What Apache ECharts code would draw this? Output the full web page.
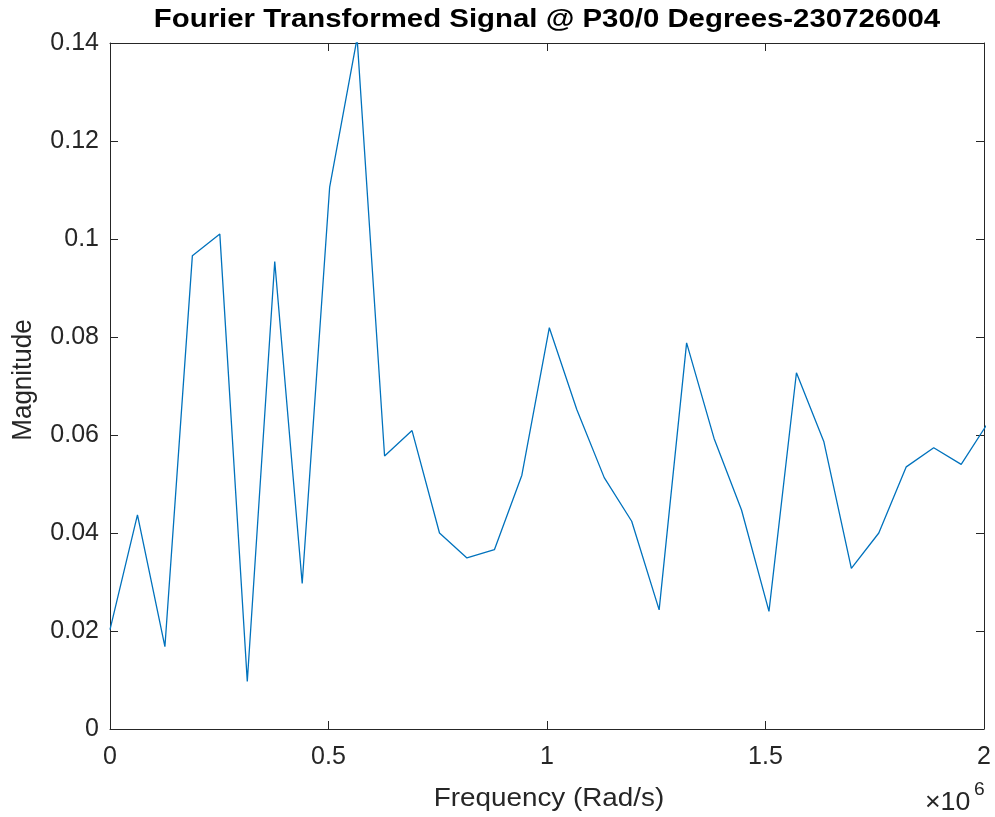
<!DOCTYPE html>
<html>
<head>
<meta charset="utf-8">
<script src="https://cdn.jsdelivr.net/npm/echarts@6/dist/echarts.min.js"></script>
<style>
  html, body { margin: 0; padding: 0; background: #fff; }
  #chart { width: 995px; height: 817px; }
</style>
</head>
<body>
<div id="chart"></div>
<script>
// Frequency bins (rad/s) and FFT magnitude
const frequency = [
  0, 62832, 125664, 188496, 251327, 314159, 376991, 439823, 502655, 565487,
  628319, 691150, 753982, 816814, 879646, 942478, 1005310, 1068142, 1130973,
  1193805, 1256637, 1319469, 1382301, 1445133, 1507964, 1570796, 1633628,
  1696460, 1759292, 1822124, 1884956, 1947787, 2010619
];
const magnitude = [
  0.0203, 0.0437, 0.0168, 0.0966, 0.1010, 0.0097, 0.0954, 0.0297, 0.1106, 0.1410,
  0.0557, 0.0609, 0.0400, 0.0349, 0.0366, 0.0518, 0.0819, 0.0652, 0.0513,
  0.0424, 0.0243, 0.0788, 0.0593, 0.0447, 0.0240, 0.0727, 0.0586,
  0.0328, 0.0400, 0.0535, 0.0574, 0.0540, 0.0627
];
const xTicks = [0, 500000, 1000000, 1500000, 2000000];
const yTicks = [0, 0.02, 0.04, 0.06, 0.08, 0.1, 0.12, 0.14];

const titleText = 'Fourier Transformed Signal @ P30/0 Degrees-230726004';
const xName = 'Frequency (Rad/s)';
const yName = 'Magnitude';

const FONT = '"Liberation Sans", Arial, Helvetica, sans-serif';
const AX = '#262626';

const chart = echarts.init(document.getElementById('chart'), null, { renderer: 'canvas' });

const xMin = xTicks[0], xMax = xTicks[xTicks.length - 1];
const xStep = xTicks[1] - xTicks[0];
const yMin = yTicks[0], yMax = yTicks[yTicks.length - 1];
const yStep = yTicks[1] - yTicks[0];

const boxLine = { show: true, onZero: false, lineStyle: { color: AX, width: 1 } };
const inTicks = { show: true, inside: true, length: 8, lineStyle: { color: AX, width: 1 } };
const tickFont = { color: AX, fontFamily: FONT, fontSize: 25 };

// plot box edges in pixels
const G = { left: 110, right: 11, top: 43, bottom: 88 };

chart.setOption({
  animation: false,
  backgroundColor: '#ffffff',
  grid: { left: G.left, right: G.right, top: G.top, bottom: G.bottom, containLabel: false },
  xAxis: [
    {
      type: 'value', position: 'bottom',
      min: xMin, max: xMax, interval: xStep,
      axisLine: boxLine, axisTick: inTicks, splitLine: { show: false },
      axisLabel: Object.assign({ margin: 16, formatter: v => String(v / 1e6) }, tickFont)
    },
    {
      type: 'value', position: 'top',
      min: xMin, max: xMax, interval: xStep,
      axisLine: boxLine, axisTick: inTicks, splitLine: { show: false },
      axisLabel: { show: false }
    }
  ],
  yAxis: [
    {
      type: 'value', position: 'left',
      min: yMin, max: yMax, interval: yStep,
      axisLine: boxLine, axisTick: inTicks, splitLine: { show: false },
      axisLabel: Object.assign({ margin: 11, formatter: v => String(Math.round(v * 100) / 100) }, tickFont)
    },
    {
      type: 'value', position: 'right',
      min: yMin, max: yMax, interval: yStep,
      axisLine: boxLine, axisTick: inTicks, splitLine: { show: false },
      axisLabel: { show: false }
    }
  ],
  graphic: [
    {
      // title
      type: 'text', x: 547, y: 20, scaleX: 1.13,
      style: {
        text: titleText, align: 'center', verticalAlign: 'middle',
        font: 'bold 26px ' + FONT, fill: '#000'
      }
    },
    {
      // x axis name
      type: 'text', x: 549, y: 799, scaleX: 1.07,
      style: {
        text: xName, align: 'center', verticalAlign: 'middle',
        font: '26px ' + FONT, fill: AX
      }
    },
    {
      // y axis name
      type: 'text', x: 23, y: 380, rotation: Math.PI / 2, scaleY: 1.07,
      style: {
        text: yName, align: 'center', verticalAlign: 'middle',
        font: '26px ' + FONT, fill: AX
      }
    },
    {
      // exponent multiplier
      type: 'text', x: 925, y: 803, scaleX: 1.07,
      style: {
        text: '\u00d710', align: 'left', verticalAlign: 'middle',
        font: '25px ' + FONT, fill: AX
      }
    },
    {
      type: 'text', x: 974, y: 790, scaleX: 1.07,
      style: {
        text: '6', align: 'left', verticalAlign: 'middle',
        font: '18px ' + FONT, fill: AX
      }
    }
  ],
  series: [
    {
      type: 'line',
      xAxisIndex: 0, yAxisIndex: 0,
      data: frequency.map((f, i) => [f, magnitude[i]]),
      showSymbol: false,
      clip: true,
      lineStyle: { color: '#0072BD', width: 1.3 },
      itemStyle: { color: '#0072BD' }
    }
  ]
});
</script>
</body>
</html>
